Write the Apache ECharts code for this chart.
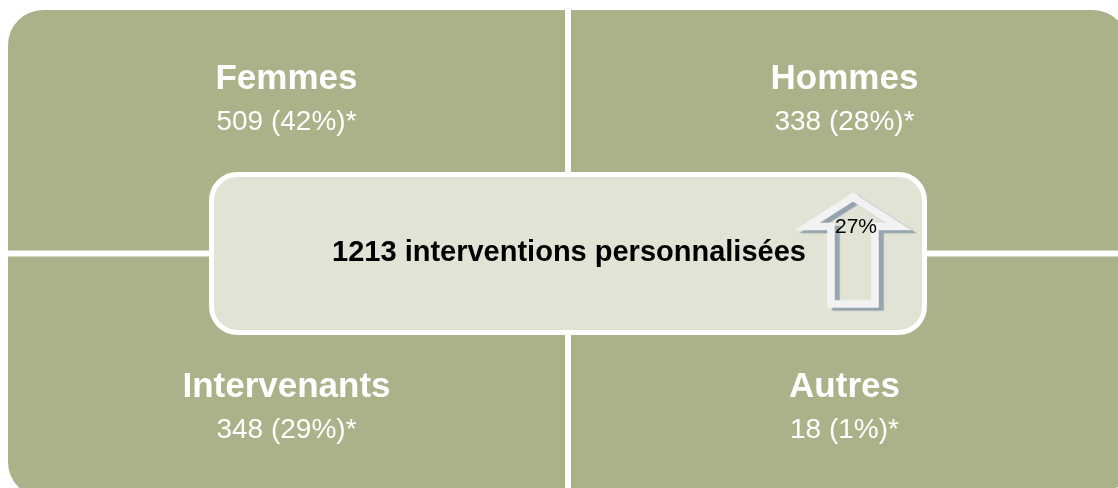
<!DOCTYPE html>
<html>
<head>
<meta charset="utf-8">
<script src="https://cdn.jsdelivr.net/npm/echarts@6/dist/echarts.min.js"></script>
<style>
  html, body { margin: 0; padding: 0; background: #fff; }
  #chart { width: 1118px; height: 488px; }
</style>
</head>
<body>
<div id="chart"></div>
<script>
// données
const categories = ['Femmes', 'Hommes', 'Intervenants', 'Autres'];
const counts = [509, 338, 348, 18];
const shares = [42, 28, 29, 1];
// position de chaque case dans la matrice (colonne, ligne)
const cols = [0, 1, 0, 1];
const rows = [0, 0, 1, 1];
const total = 1213;
const totalLabel = 'interventions personnalisées';
const growth = '27%';

const FONT = '"Liberation Sans", Arial, sans-serif';
const GREEN = '#A9B288';
const PALE = '#E1E3D5';

const chart = echarts.init(document.getElementById('chart'), null, { renderer: 'canvas' });

function renderQuadrant(params, api) {
  const col = api.value(0);
  const row = api.value(1);
  const i = api.value(2);
  const a = api.coord([col, row]);
  const b = api.coord([col + 1, row + 1]);
  const gap = 3;
  const x0 = a[0] + (col === 1 ? gap : 0);
  const x1 = b[0] - (col === 0 ? gap : 0);
  const y0 = a[1] + (row === 1 ? gap : 0);
  const y1 = b[1] - (row === 0 ? gap : 0);
  const R = 35;
  const r = [
    col === 0 && row === 0 ? R : 0,
    col === 1 && row === 0 ? R : 0,
    col === 1 && row === 1 ? R : 0,
    col === 0 && row === 1 ? R : 0
  ];
  // texte centré sur la partie visible
  const cx = (Math.max(x0, 0) + Math.min(x1, api.getWidth())) / 2;
  const titleY = row === 0 ? y0 + 69.5 : y1 - 109.5;
  return {
    type: 'group',
    children: [
      { type: 'rect', shape: { x: x0, y: y0, width: x1 - x0, height: y1 - y0, r: r }, style: { fill: GREEN } },
      {
        type: 'text',
        style: {
          text: categories[i], x: cx, y: titleY, fill: '#fff',
          fontSize: 35, fontWeight: 'bold', fontFamily: FONT, align: 'center', verticalAlign: 'middle'
        }
      },
      {
        type: 'text',
        style: {
          text: counts[i] + ' (' + shares[i] + '%)*', x: cx, y: titleY + 43, fill: '#fff',
          fontSize: 28, fontFamily: FONT, align: 'center', verticalAlign: 'middle'
        }
      }
    ]
  };
}

function renderCenter(params, api) {
  const c = api.coord([api.value(0), api.value(1)]);
  const cx = c[0], cy = c[1];
  const w = 713, h = 158;
  // flèche (contour)
  const pts = [[285, -56.5], [239, -27], [263, -27], [263, 50.5], [307, 50.5], [307, -27], [331, -27]]
    .map(p => [cx + p[0], cy + p[1]]);
  return {
    type: 'group',
    children: [
      {
        type: 'rect',
        shape: { x: cx - w / 2, y: cy - h / 2, width: w, height: h, r: 26 },
        style: { fill: PALE, stroke: '#fff', lineWidth: 5 }
      },
      {
        type: 'text',
        style: {
          text: total + ' ' + totalLabel, x: cx + 1, y: cy - 1, fill: '#000',
          fontSize: 29, fontWeight: 'bold', fontFamily: FONT, align: 'center', verticalAlign: 'middle'
        }
      },
      {
        type: 'polygon',
        shape: { points: pts },
        style: {
          fill: 'none', stroke: '#F2F2F2', lineWidth: 7.5, lineJoin: 'miter',
          shadowColor: 'rgba(130,148,165,0.8)', shadowBlur: 1, shadowOffsetX: 5, shadowOffsetY: 3
        }
      },
      {
        type: 'text',
        style: {
          text: growth, x: cx + 288, y: cy - 26.5, fill: '#000',
          fontSize: 21, fontFamily: FONT, align: 'center', verticalAlign: 'middle'
        }
      }
    ]
  };
}

const option = {
  animation: false,
  grid: { left: 8, top: 10, right: -10, bottom: -9, containLabel: false, outerBoundsMode: 'none' },
  xAxis: { type: 'value', min: 0, max: 2, show: false },
  yAxis: { type: 'value', min: 0, max: 2, inverse: true, show: false },
  series: [
    {
      type: 'custom',
      renderItem: renderQuadrant,
      data: categories.map((name, i) => [cols[i], rows[i], i]),
      clip: false,
      z: 2
    },
    {
      type: 'custom',
      renderItem: renderCenter,
      data: [[1, 1]],
      clip: false,
      z: 3
    }
  ]
};

chart.setOption(option);
</script>
</body>
</html>
